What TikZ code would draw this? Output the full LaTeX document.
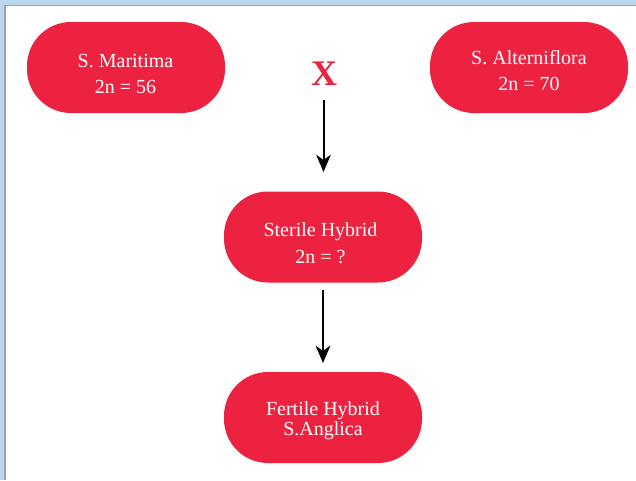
\documentclass[tikz,border=0pt]{standalone}
\usepackage{fontspec}
\setmainfont{Liberation Serif}
\usetikzlibrary{arrows.meta}
\definecolor{nodered}{RGB}{236,34,64}
\definecolor{framblue}{RGB}{189,215,238}
\definecolor{framgray}{RGB}{150,165,182}
\tikzset{
  pill/.style={fill=nodered, draw=none, rounded corners=33pt,
    minimum width=198*0.75pt, minimum height=91*0.75pt, inner sep=0pt},
  lbl/.style={anchor=base, align=center, text=white, inner sep=0pt,
    font=\fontsize{15}{19}\selectfont},
  flow/.style={draw=black, line width=1.5pt, -{Stealth[length=13pt,width=11pt,inset=4pt]}}
}
\begin{document}
\begin{tikzpicture}[x=0.75pt,y=-0.75pt]
\useasboundingbox (0,0) rectangle (636,480);
\fill[white] (0,0) rectangle (636,480);
\fill[framblue] (0,0) rectangle (636,5);
\fill[framblue] (0,0) rectangle (5,480);
\draw[framgray, line width=0.8pt] (5,480) -- (5,5.5) -- (636,5.5);
\node[pill] (mar) at (126,67.5) {};
\node[pill] (alt) at (529,67.5) {};
\node[pill] (ster) at (323,237) {};
\node[pill] (fert) at (323,417.5) {};
\node[lbl] (marT) at (125.5,93) {S. Maritima\\2n = 56};
\node[lbl] (altT) at (529,90) {S. Alterniflora\\2n = 70};
\node[lbl] (sterT) at (320.5,263) {Sterile Hybrid\\[0.6pt]2n = ?};
\node[lbl] (fertT) at (323,435) {Fertile Hybrid\\[-4pt]S.Anglica};
\node[text=nodered, font=\fontsize{27}{27}\selectfont\bfseries, inner sep=0pt, anchor=base] (x) at (324,85) {X};
\coordinate (a1s) at (323.5,100);
\coordinate (a1e) at (323.5,172);
\coordinate (a2s) at (323,290);
\coordinate (a2e) at (323,363);
\draw[flow] (a1s) -- (a1e);
\draw[flow] (a2s) -- (a2e);
\end{tikzpicture}
\end{document}
